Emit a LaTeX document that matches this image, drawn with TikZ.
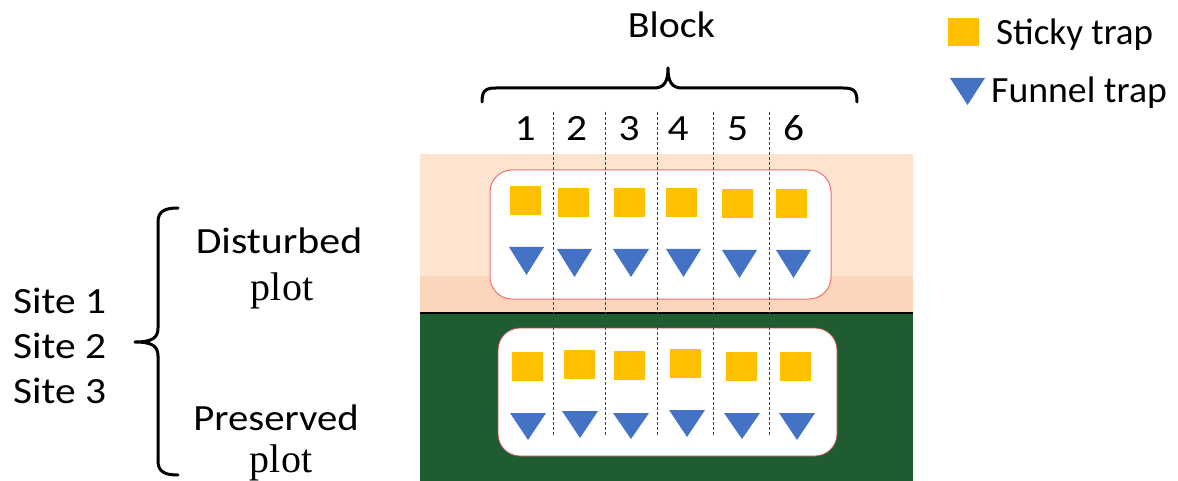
\documentclass[tikz,border=0pt]{standalone}
\usepackage{fontspec}
\newfontfamily\calfont{Carlito}
\newfontfamily\serffont{Liberation Serif}
\definecolor{peachlight}{HTML}{FDE4D0}
\definecolor{peachdark}{HTML}{FBD6BA}
\definecolor{plotgreen}{HTML}{1F5C32}
\definecolor{trapyellow}{HTML}{FFC000}
\definecolor{trapblue}{HTML}{4472C4}
\definecolor{boxred}{HTML}{F07070}
\definecolor{boxbrown}{HTML}{C0504D}
\tikzset{
  lbl/.style={inner sep=0pt, font=\calfont\fontsize{37}{44}\selectfont},
  serlbl/.style={inner sep=0pt, font=\serffont\fontsize{40}{46}\selectfont},
  sqtrap/.style={fill=trapyellow, draw=none, inner sep=0pt, minimum width=31pt, minimum height=29pt},
  tritrap/.style={fill=trapblue, draw=none},
  bracestyle/.style={line width=3pt, line cap=round, line join=round},
  divider/.style={draw=black!75, line width=1pt, dash pattern=on 3pt off 2pt},
  plotbox/.style={fill=white, rounded corners=22pt}
}
\newcommand{\trapTri}[4]{\fill[tritrap] (#1,#3) -- (#2,#3) -- ({(#1+#2)/2},#4) -- cycle;}
\begin{document}
\begin{tikzpicture}[x=1pt,y=-1pt]
\useasboundingbox (0,0) rectangle (1178,481);
% plots background
\fill[peachlight] (420,154) rectangle (913,276);
\fill[peachdark] (420,276) rectangle (913,313);
\fill[plotgreen] (420,313) rectangle (913,481);
\draw[black, line width=2.5pt] (420,313) -- (913,313);
% white boxes
\draw[plotbox, draw=boxred, line width=1pt] (490,170) rectangle (831,299);
\draw[plotbox, draw=boxbrown, line width=0.8pt] (498,328) rectangle (837,456);
% dividers
\foreach \xx in {553,605,657,713,769} {
  \coordinate (dt\xx) at (\xx,112);
  \coordinate (db\xx) at (\xx,435);
  \draw[divider] (dt\xx) -- (db\xx);
}
% upper squares
\node[sqtrap] (us1) at (525,200.5) {};
\node[sqtrap] (us2) at (573.5,202.5) {};
\node[sqtrap] (us3) at (629,202.5) {};
\node[sqtrap] (us4) at (681.5,202.5) {};
\node[sqtrap] (us5) at (737.5,203.5) {};
\node[sqtrap] (us6) at (791.5,203.5) {};
% upper triangles
\trapTri{509}{544}{247}{275}
\trapTri{557}{592}{249}{277}
\trapTri{613}{649}{249}{277}
\trapTri{666}{701}{249}{277}
\trapTri{722}{757}{250}{278}
\trapTri{776}{811}{250}{278}
% lower squares
\node[sqtrap] (ls1) at (527,366.5) {};
\node[sqtrap] (ls2) at (579,364) {};
\node[sqtrap] (ls3) at (629.5,365.5) {};
\node[sqtrap] (ls4) at (685.5,363) {};
\node[sqtrap] (ls5) at (741,366) {};
\node[sqtrap] (ls6) at (795.5,366.5) {};
% lower triangles
\trapTri{510}{546}{413}{440}
\trapTri{562}{598}{411}{438}
\trapTri{613}{649}{413}{439}
\trapTri{669}{705}{410}{437}
\trapTri{724}{760}{413}{439}
\trapTri{779}{815}{413}{440}
% block label and brace
\node[lbl, anchor=base] (block) at (671.5,38) {\scalebox{1.08}[1]{Block}};
\coordinate (tbl) at (482,102);
\coordinate (tbtip) at (668,68);
\coordinate (tbr) at (857,102);
\draw[bracestyle] (tbl) .. controls (482,91) and (485,88) .. (496,88) -- (654,88)
  .. controls (664,88) and (668,82) .. (tbtip)
  .. controls (668,82) and (672,88) .. (682,88) -- (843,88)
  .. controls (854,88) and (857,91) .. (tbr);
% block numbers
\foreach \n/\xx in {1/525,2/576.5,3/629,4/678,5/737.5,6/793.5} {
  \node[lbl, anchor=base] (num\n) at (\xx,141) {\scalebox{1.12}[1]{\n}};
}
% left brace
\coordinate (lbt) at (178,208);
\coordinate (lbtip) at (135,342);
\coordinate (lbb) at (178,475);
\draw[bracestyle] (lbt) .. controls (165,208) and (158,211) .. (158,222) -- (158,328)
  .. controls (158,338) and (152,342) .. (lbtip)
  .. controls (152,342) and (158,346) .. (158,356) -- (158,461)
  .. controls (158,472) and (165,475) .. (lbb);
% sites
\node[lbl, anchor=base west] (site1) at (13,313) {\scalebox{1.12}[1]{Site 1}};
\node[lbl, anchor=base west] (site2) at (13,358) {\scalebox{1.12}[1]{Site 2}};
\node[lbl, anchor=base west] (site3) at (13,403) {\scalebox{1.12}[1]{Site 3}};
% plot labels
\node[lbl, anchor=base] (dist) at (279,254) {\scalebox{1.13}[1]{Disturbed}};
\node[serlbl, anchor=base] (dplot) at (282,300) {plot};
\node[lbl, anchor=base] (pres) at (276,430) {\scalebox{1.1}[1]{Preserved}};
\node[serlbl, anchor=base] (pplot) at (281,472) {plot};
% legend
\node[sqtrap, minimum width=31pt, minimum height=28pt] (legsq) at (963.5,32) {};
\node[lbl, anchor=base west] (legsticky) at (996,45) {Sticky trap};
\trapTri{950}{985}{78}{105}
\node[lbl, anchor=base west] (legfunnel) at (991,103) {\scalebox{1.02}[1]{Funnel trap}};
\end{tikzpicture}
\end{document}
